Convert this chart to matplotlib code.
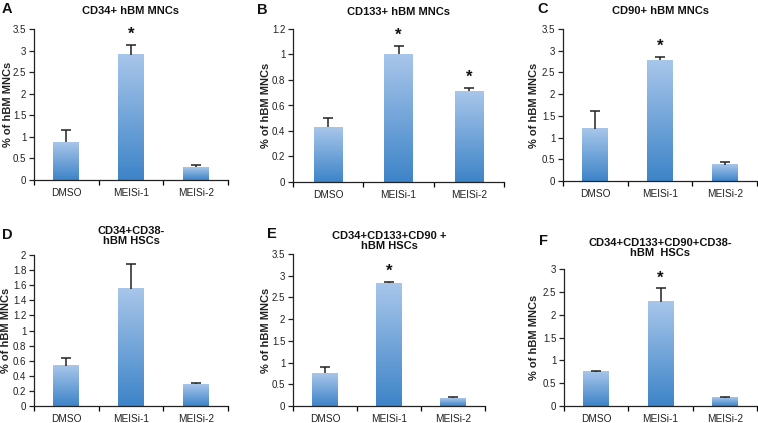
import matplotlib
matplotlib.use("Agg")
import matplotlib.pyplot as plt
import numpy as np
from matplotlib.colors import LinearSegmentedColormap

plt.rcParams['font.family'] = ['Liberation Sans', 'DejaVu Sans']

categories = ["DMSO", "MEISi-1", "MEISi-2"]

letters = ["A", "B", "C", "D", "E", "F"]
titles = ["CD34+ hBM MNCs", "CD133+ hBM MNCs", "CD90+ hBM MNCs",
          "CD34+CD38-\nhBM HSCs", "CD34+CD133+CD90 +\nhBM HSCs",
          "CD34+CD133+CD90+CD38-\nhBM  HSCs"]

vals_A = [0.87, 2.90, 0.30]
err_A = [0.28, 0.23, 0.04]
star_A = [False, True, False]

vals_B = [0.43, 1.00, 0.71]
err_B = [0.075, 0.07, 0.03]
star_B = [False, True, True]

vals_C = [1.20, 2.78, 0.37]
err_C = [0.42, 0.08, 0.07]
star_C = [False, True, False]

vals_D = [0.53, 1.55, 0.29]
err_D = [0.10, 0.33, 0.01]
star_D = [False, False, False]

vals_E = [0.75, 2.83, 0.18]
err_E = [0.15, 0.03, 0.03]
star_E = [False, True, False]

vals_F = [0.75, 2.28, 0.18]
err_F = [0.02, 0.30, 0.02]
star_F = [False, True, False]

ylims = [(3.5, 0.5), (1.2, 0.2), (3.5, 0.5), (2.0, 0.2), (3.5, 0.5), (3.0, 0.5)]

W, H = 758, 423
fig = plt.figure(figsize=(W / 100, H / 100), dpi=100)

# axes boxes in pixels: left, right, top, bottom
boxes = [(34, 228, 29, 180), (293, 504, 29, 182), (563, 757, 29, 181),
         (34, 228, 255, 406), (293, 485, 254, 406), (564, 757, 269, 406)]
letter_pos = [(2, 9), (257, 10), (537, 9), (2, 235), (267, 234), (539, 241)]
title_y = [11, 12, 11, 236, 241, 248]
ylabel_x = [8, 266, 534, 6, 266, 534]

cmap = LinearSegmentedColormap.from_list("g", ["#3d84c8", "#a8c6ea"])
grad = np.linspace(0, 1, 256).reshape(-1, 1)

data = [(vals_A, err_A, star_A), (vals_B, err_B, star_B), (vals_C, err_C, star_C),
        (vals_D, err_D, star_D), (vals_E, err_E, star_E), (vals_F, err_F, star_F)]

for i, (vals, errs, stars) in enumerate(data):
    l, r, t, b = boxes[i]
    ax = fig.add_axes([l / W, 1 - b / H, (r - l) / W, (b - t) / H])
    x = np.arange(len(categories))
    bars = ax.bar(x, vals, width=0.4, color="none", edgecolor="none", zorder=2)
    for bar in bars:
        bx, by = bar.get_x(), bar.get_y()
        bw, bh = bar.get_width(), bar.get_height()
        ax.imshow(grad, extent=[bx, bx + bw, by, by + bh], origin="lower",
                  cmap=cmap, aspect="auto", zorder=2)
    tops = np.add(vals, errs)
    ax.errorbar(x, vals, yerr=[np.zeros(len(vals)), errs], fmt="none",
                ecolor="#222222", elinewidth=1.1, capsize=0, zorder=3)
    ax.plot(x, tops, linestyle="none", marker="_", markersize=7,
            markeredgewidth=1.1, color="#222222", zorder=3)
    ymax, step = ylims[i]
    for xi, tp, s in zip(x, tops, stars):
        if s:
            ax.text(xi, tp + ymax * 0.02, "*", ha="center", va="bottom",
                    fontsize=12, fontweight="bold", color="#111111")
    ax.set_xlim(-0.5, 2.5)
    ax.set_ylim(0, ymax)
    yt = np.round(np.arange(0, ymax + step / 2, step), 2)
    ax.set_yticks(yt)
    ax.set_yticklabels([("%g" % v) for v in yt])
    ax.set_xticks(x)
    ax.set_xticklabels(categories)
    ax.set_xticks([-0.5, 0.5, 1.5, 2.5], minor=True)
    ax.tick_params(axis="x", which="major", length=0, labelsize=7.3, pad=5.5,
                   colors="#222222")
    ax.tick_params(axis="x", which="minor", length=3.5, direction="out", width=0.9)
    ax.tick_params(axis="y", length=3.5, direction="out", width=0.9, labelsize=7,
                   pad=2, colors="#222222")
    for sp in ["top", "right"]:
        ax.spines[sp].set_visible(False)
    for sp in ["left", "bottom"]:
        ax.spines[sp].set_linewidth(0.9)
        ax.spines[sp].set_color("#222222")
    cy = 1 - (t + b) / 2 / H
    fig.text(ylabel_x[i] / W, cy, "% of hBM MNCs", rotation=90, ha="center", va="center",
             fontsize=8, fontweight="bold", color="#222222")
    fig.text(((l + r) / 2) / W, 1 - title_y[i] / H, titles[i], ha="center", va="center",
             fontsize=8, fontweight="bold", color="#111111", linespacing=1.1)
    lx, ly = letter_pos[i]
    fig.text(lx / W, 1 - ly / H, letters[i], ha="left", va="center",
             fontsize=10.5, fontweight="bold", color="#111111")

fig.savefig("out.png", dpi=100)
